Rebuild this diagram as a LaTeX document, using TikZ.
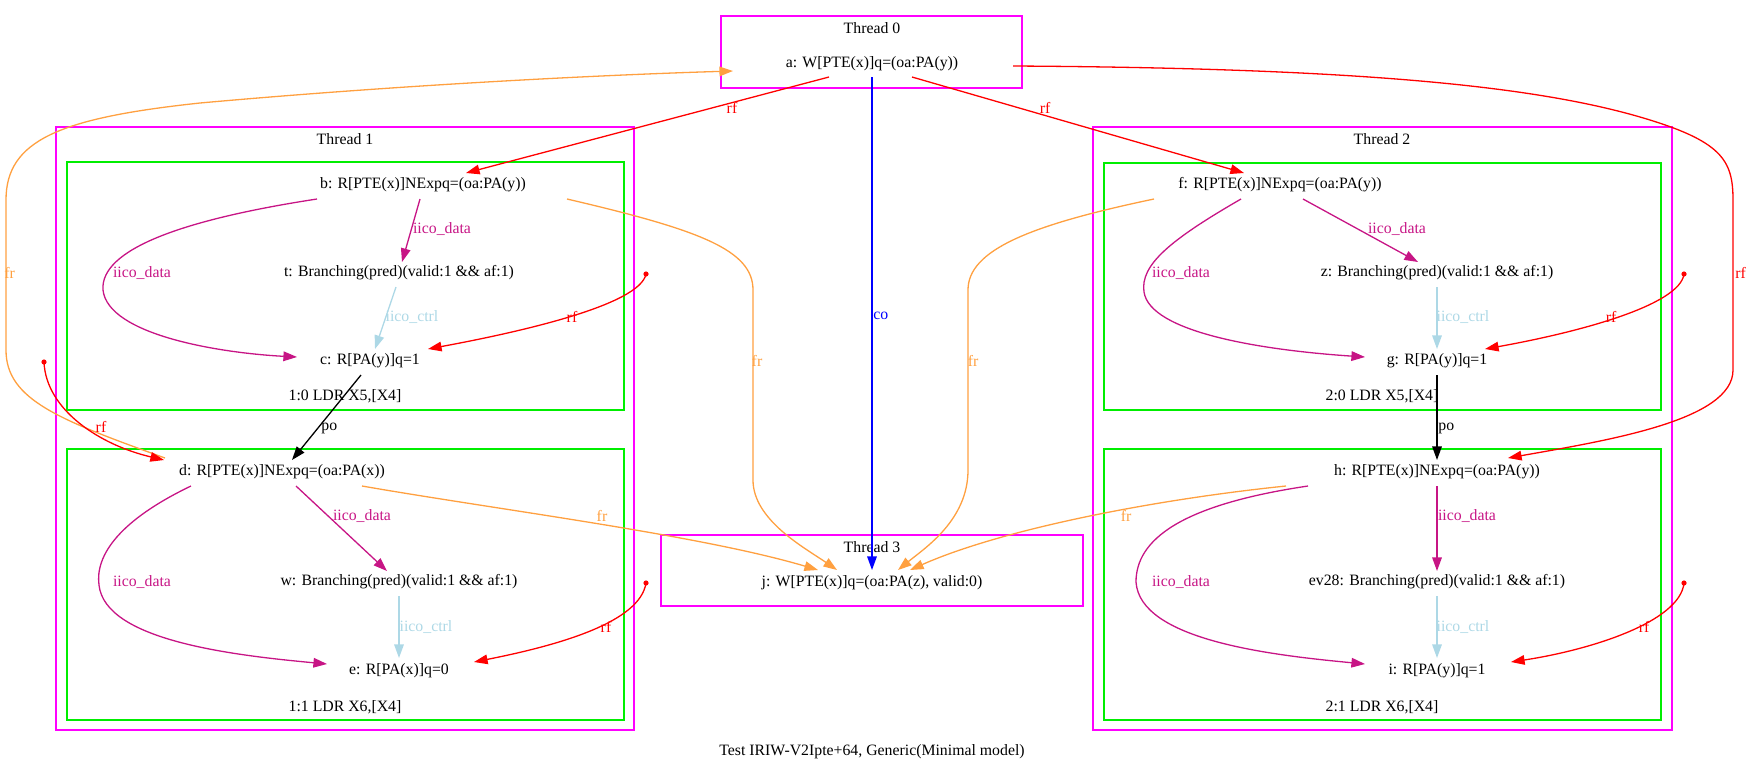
\documentclass[tikz,border=0pt]{standalone}
\usepackage{fontspec}
\setmainfont{Liberation Serif}
\usetikzlibrary{arrows.meta,calc}
\definecolor{frcol}{RGB}{255,160,64}
\definecolor{iicod}{RGB}{199,21,133}
\definecolor{iicoc}{RGB}{173,216,230}
\definecolor{mag}{RGB}{255,0,255}
\definecolor{grn}{RGB}{0,238,0}
\begin{document}
\begin{tikzpicture}[x=0.5pt,y=-0.5pt,
  font=\fontsize{7.9}{9}\selectfont,
  ev/.style={inner sep=0pt, minimum height=13pt},
  lbl/.style={inner sep=0pt},
  thr/.style={draw=mag, line width=0.7pt},
  ins/.style={draw=grn, line width=0.7pt},
  edge/.style={line width=0.65pt, -{Triangle[length=6.8pt,width=4.8pt]}},
  rfe/.style={edge, red},
  fre/.style={edge, frcol},
  ide/.style={edge, iicod},
  ice/.style={edge, iicoc},
  poe/.style={edge, black},
  coe/.style={edge, blue},
  dotn/.style={circle, fill=red, inner sep=0pt, minimum size=2.6pt}]
\useasboundingbox (0,0) rectangle (1751,772);

% cluster boxes
\draw[thr, line width=0.85pt] (721,16) rectangle (1022,88);
\draw[thr] (56,127) rectangle (634,730);
\draw[ins] (67,162) rectangle (624,410);
\draw[ins] (67,449) rectangle (624,720);
\draw[thr] (1093,127) rectangle (1672,730);
\draw[ins] (1104,163) rectangle (1661,410);
\draw[ins] (1104,449) rectangle (1661,720);
\draw[thr] (661,535) rectangle (1083,606);

% cluster titles
\node[lbl] (t0) at (872,28) {Thread 0};
\node[lbl] (t1) at (345,139) {Thread 1};
\node[lbl] (t2) at (1382,139) {Thread 2};
\node[lbl] (t3) at (872,547) {Thread 3};
\node[lbl] (l10) at (345,396) {1:0 LDR X5,[X4]};
\node[lbl] (l11) at (345,707) {1:1 LDR X6,[X4]};
\node[lbl] (l20) at (1382,396) {2:0 LDR X5,[X4]};
\node[lbl] (l21) at (1382,707) {2:1 LDR X6,[X4]};
\node[lbl] (cap) at (872,752) {Test IRIW-V2Ipte+64, Generic(Minimal model)};

% events
\node[ev] (a) at (872,64) {a: W[PTE(x)]q=(oa:PA(y))};
\node[ev] (b) at (423,185) {b: R[PTE(x)]NExpq=(oa:PA(y))};
\node[ev] (t) at (399,273) {t: Branching(pred)(valid:1 \&\& af:1)};
\node[ev] (c) at (370,361) {c: R[PA(y)]q=1};
\node[ev] (d) at (282,472) {d: R[PTE(x)]NExpq=(oa:PA(x))};
\node[ev] (w) at (399,582) {w: Branching(pred)(valid:1 \&\& af:1)};
\node[ev] (e) at (399,671) {e: R[PA(x)]q=0};
\node[ev] (f) at (1280,185) {f: R[PTE(x)]NExpq=(oa:PA(y))};
\node[ev] (z) at (1437,273) {z: Branching(pred)(valid:1 \&\& af:1)};
\node[ev] (g) at (1437,361) {g: R[PA(y)]q=1};
\node[ev] (h) at (1437,472) {h: R[PTE(x)]NExpq=(oa:PA(y))};
\node[ev] (ev28) at (1437,582) {ev28: Branching(pred)(valid:1 \&\& af:1)};
\node[ev] (i) at (1437,671) {i: R[PA(y)]q=1};
\node[ev] (j) at (872,583) {j: W[PTE(x)]q=(oa:PA(z), valid:0)};

% initial-write dots
\node[dotn] (p1) at (44,362) {};
\node[dotn] (p2) at (646,274) {};
\node[dotn] (p3) at (646,583) {};
\node[dotn] (p4) at (1684,274) {};
\node[dotn] (p5) at (1684,583) {};

% Thread 0 edges
\draw[rfe] ($(a)+(-43,13)$) -- ($(b)+(43,-12)$);
\node[lbl, red] at (732,108) {rf};
\draw[rfe] ($(a)+(40,13)$) -- ($(f)+(-36,-12)$);
\node[lbl, red] at (1045,108) {rf};
\draw[rfe] ($(a)+(141,2)$) .. controls (1350,68) and (1530,85) .. (1640,117)
  .. controls (1722,141) and (1733,160) .. (1733,200) -- (1733,370)
  .. controls (1733,420) and (1610,440) .. ($(h)+(71,-14)$);
\node[lbl, red, anchor=west] at (1735,273) {rf};
\draw[coe] ($(a)+(0,13)$) -- ($(j)+(0,-13)$);
\node[lbl, blue, anchor=west] at (873,316) {co};

% Thread 1 edges
\draw[fre] ($(d)+(-117,-14)$) .. controls (60,420) and (6,400) .. (6,350) -- (6,200)
  .. controls (6,140) and (60,118) .. (200,103) .. controls (400,85) and (600,75) .. ($(a)+(-139,7)$);
\node[lbl, frcol, anchor=west] at (4,273) {fr};
\draw[rfe] (p1.center) .. controls (46,410) and (100,445) .. ($(d)+(-118,-12)$);
\node[lbl, red] at (101,427) {rf};
\draw[poe] ($(c)+(-9,14)$) -- ($(d)+(10,-12)$);
\node[lbl, anchor=west] at (321,428) {po};
\draw[ide] ($(b)+(-3,14)$) -- ($(t)+(3,-11)$);
\node[lbl, iicod] at (442,229) {iico\_data};
\draw[ide] ($(b)+(-106,14)$) .. controls (180,220) and (100,250) .. (103,290)
  .. controls (108,335) and (220,353) .. ($(c)+(-73,-4)$);
\node[lbl, iicod] at (142,273) {iico\_data};
\draw[ice] ($(t)+(-3,14)$) -- ($(c)+(5,-12)$);
\node[lbl, iicoc] at (412,317) {iico\_ctrl};
\draw[rfe] (p2.center) .. controls (640,305) and (520,332) .. ($(c)+(58,-12)$);
\node[lbl, red] at (572,317) {rf};
\draw[fre] ($(b)+(144,14)$) .. controls (700,230) and (753,250) .. (753,290) -- (753,480)
  .. controls (753,520) and (805,548) .. ($(j)+(-35,-13)$);
\node[lbl, frcol] at (757,361) {fr};
\draw[fre] ($(d)+(80,14)$) .. controls (500,510) and (700,535) .. ($(j)+(-54,-13)$);
\node[lbl, frcol] at (602,516) {fr};
\draw[ide] ($(d)+(14,14)$) -- ($(w)+(-12,-11)$);
\node[lbl, iicod] at (362,516) {iico\_data};
\draw[ide] ($(d)+(-91,14)$) .. controls (120,520) and (95,555) .. (99,585)
  .. controls (105,640) and (230,655) .. ($(e)+(-72,-7)$);
\node[lbl, iicod] at (142,582) {iico\_data};
\draw[ice] ($(w)+(0,14)$) -- ($(e)+(0,-13)$);
\node[lbl, iicoc] at (426,627) {iico\_ctrl};
\draw[rfe] (p3.center) .. controls (640,622) and (560,645) .. ($(e)+(75,-9)$);
\node[lbl, red] at (606,627) {rf};

% Thread 2 edges
\draw[fre] ($(f)+(-126,14)$) .. controls (1030,225) and (968,250) .. (968,290) -- (968,470)
  .. controls (968,520) and (925,548) .. ($(j)+(26,-13)$);
\node[lbl, frcol] at (973,361) {fr};
\draw[fre] ($(h)+(-151,14)$) .. controls (1150,500) and (1000,530) .. ($(j)+(38,-13)$);
\node[lbl, frcol] at (1126,516) {fr};
\draw[ide] ($(f)+(23,14)$) -- ($(z)+(-19,-11)$);
\node[lbl, iicod] at (1397,229) {iico\_data};
\draw[ide] ($(f)+(-39,14)$) .. controls (1170,240) and (1140,265) .. (1144,292)
  .. controls (1150,332) and (1260,350) .. ($(g)+(-72,-4)$);
\node[lbl, iicod] at (1181,273) {iico\_data};
\draw[ice] ($(z)+(0,14)$) -- ($(g)+(0,-12)$);
\node[lbl, iicoc] at (1463,317) {iico\_ctrl};
\draw[rfe] (p4.center) .. controls (1680,305) and (1580,332) .. ($(g)+(48,-12)$);
\node[lbl, red] at (1611,317) {rf};
\draw[poe] ($(g)+(0,14)$) -- ($(h)+(0,-12)$);
\node[lbl, anchor=west] at (1438,428) {po};
\draw[ide] ($(h)+(0,14)$) -- ($(ev28)+(0,-11)$);
\node[lbl, iicod] at (1467,516) {iico\_data};
\draw[ide] ($(h)+(-129,14)$) .. controls (1180,505) and (1136,540) .. (1136,582)
  .. controls (1140,640) and (1270,655) .. ($(i)+(-72,-7)$);
\node[lbl, iicod] at (1181,582) {iico\_data};
\draw[ice] ($(ev28)+(0,14)$) -- ($(i)+(0,-13)$);
\node[lbl, iicoc] at (1463,627) {iico\_ctrl};
\draw[rfe] (p5.center) .. controls (1680,622) and (1590,650) .. ($(i)+(74,-9)$);
\node[lbl, red] at (1644,627) {rf};
\end{tikzpicture}
\end{document}
